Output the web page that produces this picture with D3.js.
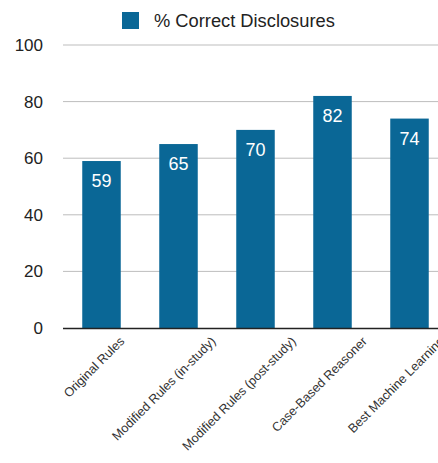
<!DOCTYPE html>
<html><head><meta charset="utf-8">
<script src="https://cdn.jsdelivr.net/npm/d3@7"></script>
<style>body{margin:0;background:#fff;overflow:hidden}</style>
</head><body>
<svg id="c" width="438" height="463"></svg>
<script>
const categories = ["Original Rules","Modified Rules (in-study)","Modified Rules (post-study)","Case-Based Reasoner","Best Machine Learning"];
const values = [59,65,70,82,74];
const seriesName = "% Correct Disclosures";
const yTicks = [0,20,40,60,80,100];

const svg = d3.select("#c");
const font = "'Liberation Sans', Arial, Helvetica, sans-serif";
const color = "#0a6796";
const x = d3.scaleBand().domain(categories).range([63, 448]).paddingInner(0.5).paddingOuter(0.25);
const y = d3.scaleLinear().domain([0,100]).range([328, 45]);

// gridlines
svg.append("g").selectAll("line").data(yTicks.filter(d=>d>0)).join("line")
  .attr("x1",63).attr("x2",438).attr("y1",d=>y(d)).attr("y2",d=>y(d))
  .attr("stroke","#bdbdbd").attr("stroke-width",1);

// y tick labels
svg.append("g").selectAll("text").data(yTicks).join("text")
  .attr("x",43).attr("y",d=>y(d)).attr("dy","0.35em").attr("text-anchor","end")
  .attr("font-family",font).attr("font-size",17).attr("fill","#222").text(d=>d);

// bars
svg.append("g").selectAll("rect").data(values).join("rect")
  .attr("x",(d,i)=>x(categories[i])).attr("width",x.bandwidth())
  .attr("y",d=>y(d)).attr("height",d=>y(0)-y(d)).attr("fill",color);

// value labels
svg.append("g").selectAll("text").data(values).join("text")
  .attr("x",(d,i)=>x(categories[i])+x.bandwidth()/2).attr("y",d=>y(d)+26)
  .attr("text-anchor","middle").attr("font-family",font).attr("font-size",18)
  .attr("fill","#fff").text(d=>d);

// axis line
svg.append("line").attr("x1",63).attr("x2",438).attr("y1",y(0)+0.5).attr("y2",y(0)+0.5)
  .attr("stroke","#222").attr("stroke-width",1.5);

// x labels (rotated, positioned relative to their own length)
svg.append("g").selectAll("text").data(categories).join("text")
  .attr("text-anchor","end").attr("font-family",font).attr("font-size",12.7)
  .attr("fill","#333").text(d=>d)
  .each(function(d){
    const len = this.getComputedTextLength();
    const off = 5 + 0.235*len;
    d3.select(this).attr("transform",`translate(${x(d)+x.bandwidth()/2+off},${y(0)+14}) rotate(-45)`);
  });

// legend
svg.append("rect").attr("x",122).attr("y",12).attr("width",17).attr("height",17).attr("fill",color);
svg.append("text").attr("x",154).attr("y",27).attr("font-family",font).attr("font-size",18.3)
  .attr("fill","#222").text(seriesName);
</script>
</body></html>
